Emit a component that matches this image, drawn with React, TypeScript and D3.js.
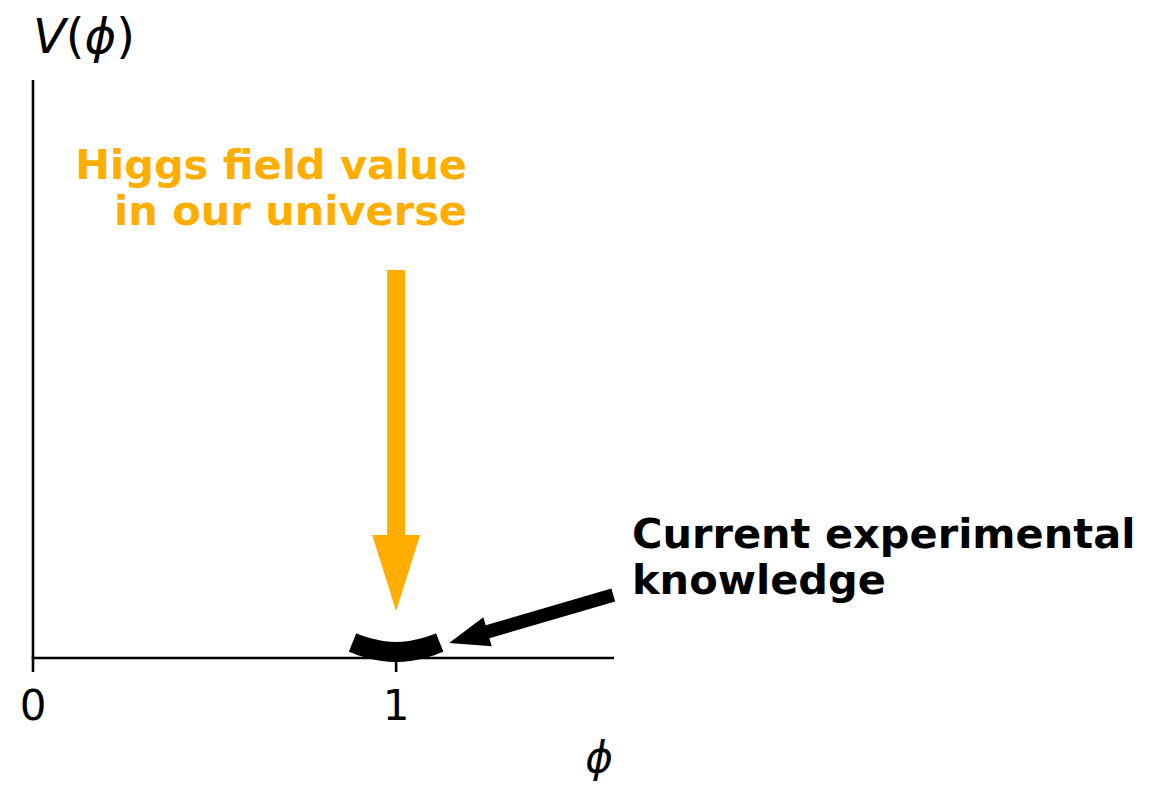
import React from "react";
import * as d3 from "d3";

// Potential near its minimum, the band of current experimental knowledge
const phiValues = [0.88, 0.92, 0.96, 1.0, 1.04, 1.08, 1.12];
const potentialValues = [0.107, 0.071, 0.05, 0.042, 0.05, 0.071, 0.107];

const xTicks = [0, 1];
const xTickLabels = ["0", "1"];

// Annotation arrows, in data coordinates: [phi, V]
const vevArrowTail: [number, number] = [1.0, 2.685];
const vevArrowTip: [number, number] = [1.0, 0.325];
const knowledgeArrowTail: [number, number] = [1.598, 0.436];
const knowledgeArrowTip: [number, number] = [1.146, 0.104];

const vevLabel = ["Higgs field value", "in our universe"];
const knowledgeLabel = ["Current experimental", "knowledge"];

const ORANGE = "#ffae00";
const FONT = "DejaVu Sans, Verdana, sans-serif";

const W = 1162;
const H = 785;
const margin = { left: 33, right: 548, top: 80, bottom: 127 };

function arrowPath(
  x0: number,
  y0: number,
  x1: number,
  y1: number,
  shaftW: number,
  headLen: number,
  headW: number
): string {
  const dx = x1 - x0;
  const dy = y1 - y0;
  const len = Math.hypot(dx, dy);
  const ux = dx / len;
  const uy = dy / len;
  const px = -uy;
  const py = ux;
  const bx = x1 - ux * headLen;
  const by = y1 - uy * headLen;
  const pts: [number, number][] = [
    [x0 + px * shaftW / 2, y0 + py * shaftW / 2],
    [bx + px * shaftW / 2, by + py * shaftW / 2],
    [bx + px * headW / 2, by + py * headW / 2],
    [x1, y1],
    [bx - px * headW / 2, by - py * headW / 2],
    [bx - px * shaftW / 2, by - py * shaftW / 2],
    [x0 - px * shaftW / 2, y0 - py * shaftW / 2],
  ];
  return "M" + pts.map((p) => p.join(",")).join("L") + "Z";
}

export default function App() {
  const x = d3.scaleLinear().domain([0, 1.6]).range([margin.left, W - margin.right]);
  const y = d3.scaleLinear().domain([0, 4]).range([H - margin.bottom, margin.top]);

  const line = d3
    .line<number>()
    .x((_, i) => x(phiValues[i]))
    .y((d) => y(d))
    .curve(d3.curveCatmullRom);

  const x0 = x(0);
  const y0 = y(0);

  const vevPath = arrowPath(
    x(vevArrowTail[0]), y(vevArrowTail[1]),
    x(vevArrowTip[0]), y(vevArrowTip[1]),
    18, 76, 48
  );
  const knowPath = arrowPath(
    x(knowledgeArrowTail[0]), y(knowledgeArrowTail[1]),
    x(knowledgeArrowTip[0]), y(knowledgeArrowTip[1]),
    13.5, 40, 30
  );

  return (
    <svg
      width={W}
      height={H}
      viewBox={`0 0 ${W} ${H}`}
      style={{ position: "absolute", left: 0, top: 0, display: "block", background: "#fff" }}
      fontFamily={FONT}
    >
      {/* potential curve */}
      <path
        d={line(potentialValues) || ""}
        fill="none"
        stroke="#000"
        strokeWidth={20}
        strokeLinecap="butt"
      />

      {/* axes */}
      <line x1={x0} x2={x0} y1={y.range()[1]} y2={y0} stroke="#000" strokeWidth={2.6} />
      <line x1={x0 - 1.3} x2={x(1.6)} y1={y0} y2={y0} stroke="#000" strokeWidth={2.6} />
      {xTicks.map((t, i) => (
        <g key={t}>
          <line x1={x(t)} x2={x(t)} y1={y0} y2={y0 + 14} stroke="#000" strokeWidth={2.6} />
          <text x={x(t)} y={720} textAnchor="middle" fontSize={42} fill="#000">
            {xTickLabels[i]}
          </text>
        </g>
      ))}

      {/* axis labels */}
      <text x={599} y={772} textAnchor="middle" fontSize={42} fontStyle="italic" fill="#000">
        {"\u03d5"}
      </text>
      <text x={33} y={53} fontSize={48} fill="#000">
        <tspan fontStyle="italic">V</tspan>
        <tspan>(</tspan>
        <tspan fontStyle="italic">{"\u03d5"}</tspan>
        <tspan>)</tspan>
      </text>

      {/* vacuum expectation value arrow */}
      <path d={vevPath} fill={ORANGE} />
      <text textAnchor="end" fontSize={41.5} fontWeight="bold" fill={ORANGE}>
        {vevLabel.map((s, i) => (
          <tspan key={s} x={467} y={179 + i * 46}>
            {s}
          </tspan>
        ))}
      </text>

      {/* experimental knowledge arrow */}
      <path d={knowPath} fill="#000" />
      <text fontSize={41.5} fontWeight="bold" fill="#000">
        {knowledgeLabel.map((s, i) => (
          <tspan key={s} x={632} y={548 + i * 46}>
            {s}
          </tspan>
        ))}
      </text>
    </svg>
  );
}
